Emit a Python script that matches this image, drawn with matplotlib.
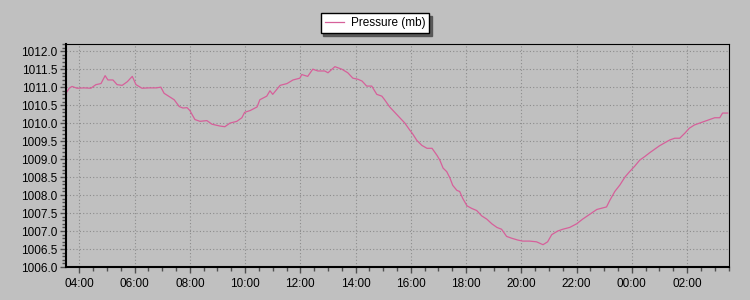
import matplotlib
matplotlib.use("Agg")
import matplotlib.pyplot as plt
import matplotlib.dates as mdates
from datetime import datetime, timedelta

# ---- data ----
times = ["03:31", "03:38", "03:44", "03:55", "04:10", "04:25", "04:36", "04:47", "04:56", "05:02",
         "05:13", "05:22", "05:33", "05:44", "05:55", "06:03", "06:16", "06:31", "06:47", "06:57",
         "07:04", "07:15", "07:26", "07:37", "07:45", "07:54", "08:00", "08:11", "08:22", "08:37",
         "08:48", "09:05", "09:16", "09:27", "09:42", "09:53", "09:59", "10:11", "10:26", "10:32",
         "10:47", "10:54", "11:00", "11:16", "11:31", "11:44", "11:59", "12:03", "12:16", "12:27",
         "12:38", "12:53", "13:00", "13:15", "13:30", "13:43", "13:54", "14:05", "14:14", "14:24",
         "14:35", "14:46", "14:57", "15:03", "15:14", "15:25", "15:36", "15:47", "15:58", "16:04",
         "16:13", "16:24", "16:35", "16:46", "16:57", "17:03", "17:10", "17:18", "17:25", "17:31",
         "17:40", "17:46", "17:53", "18:02", "18:12", "18:23", "18:34", "18:45", "18:56", "19:07",
         "19:17", "19:28", "19:39", "19:52", "20:03", "20:18", "20:33", "20:47", "20:57", "21:06",
         "21:19", "21:30", "21:45", "22:00", "22:13", "22:29", "22:44", "23:05", "23:12", "23:23",
         "23:34", "23:45", "23:55", "00:06", "00:17", "00:28", "00:38", "00:49", "01:00", "01:11",
         "01:22", "01:33", "01:44", "01:55", "02:05", "02:16", "02:27", "02:38", "02:49", "03:00",
         "03:11", "03:17", "03:28"]
pressure = [1010.83, 1010.97, 1011.02, 1010.97, 1010.98, 1010.97, 1011.07, 1011.10, 1011.32, 1011.20,
            1011.20, 1011.07, 1011.05, 1011.15, 1011.30, 1011.07, 1010.97, 1010.98, 1010.98, 1011.00,
            1010.83, 1010.74, 1010.65, 1010.46, 1010.42, 1010.43, 1010.35, 1010.10, 1010.05, 1010.07,
            1009.97, 1009.92, 1009.90, 1010.00, 1010.05, 1010.15, 1010.30, 1010.35, 1010.45, 1010.65,
            1010.75, 1010.90, 1010.80, 1011.05, 1011.10, 1011.20, 1011.25, 1011.35, 1011.30, 1011.50,
            1011.45, 1011.45, 1011.40, 1011.57, 1011.50, 1011.40, 1011.25, 1011.22, 1011.17, 1011.03,
            1011.03, 1010.80, 1010.75, 1010.65, 1010.45, 1010.30, 1010.15, 1010.00, 1009.80, 1009.70,
            1009.52, 1009.38, 1009.30, 1009.30, 1009.10, 1008.97, 1008.75, 1008.65, 1008.47, 1008.27,
            1008.13, 1008.10, 1007.90, 1007.70, 1007.63, 1007.57, 1007.42, 1007.33, 1007.20, 1007.10,
            1007.05, 1006.85, 1006.80, 1006.75, 1006.72, 1006.72, 1006.70, 1006.62, 1006.70, 1006.90,
            1007.00, 1007.05, 1007.10, 1007.20, 1007.33, 1007.47, 1007.60, 1007.67, 1007.85, 1008.10,
            1008.28, 1008.50, 1008.65, 1008.80, 1008.97, 1009.07, 1009.17, 1009.27, 1009.37, 1009.45,
            1009.53, 1009.58, 1009.58, 1009.72, 1009.86, 1009.95, 1010.00, 1010.05, 1010.10, 1010.15,
            1010.15, 1010.28, 1010.28]
series_label = "Pressure (mb)"
x_start, x_end = "03:31", "03:31"
y_min, y_max = 1006.0, 1012.2

# ---- build datetimes (day rolls over when clock goes backwards) ----
base = datetime(2012, 1, 1)
dts = []
day = 0
prev = None
for t in times:
    h, m = map(int, t.split(":"))
    if prev is not None and (h, m) < prev:
        day += 1
    prev = (h, m)
    dts.append(base + timedelta(days=day, hours=h, minutes=m))
h0, m0 = map(int, x_start.split(":"))
h1, m1 = map(int, x_end.split(":"))
xlo = base + timedelta(hours=h0, minutes=m0)
xhi = base + timedelta(days=1, hours=h1, minutes=m1)

bg = "#c0c0c0"
plt.rcParams["font.family"] = ["Liberation Sans", "DejaVu Sans"]
fig = plt.figure(figsize=(7.5, 3.0), dpi=100, facecolor=bg)
ax = fig.add_axes([66 / 750, 33 / 300, (729 - 66) / 750, (267 - 44) / 300], facecolor=bg)

ax.plot(dts, pressure, color="#d6609a", lw=0.9, label=series_label)

ax.set_xlim(xlo, xhi)
ax.set_ylim(y_min, y_max)

ax.xaxis.set_major_locator(mdates.HourLocator(byhour=range(0, 24, 2)))
ax.xaxis.set_minor_locator(mdates.MinuteLocator(byminute=[0, 30]))
ax.xaxis.set_major_formatter(mdates.DateFormatter("%H:%M"))
ax.yaxis.set_major_locator(plt.MultipleLocator(0.5))
ax.yaxis.set_minor_locator(plt.MultipleLocator(0.1))
ax.yaxis.set_major_formatter(plt.FormatStrFormatter("%.1f"))

ax.grid(True, which="major", color="#8c8c8c", linestyle=(0, (1, 2)), linewidth=0.8)
ax.tick_params(which="major", direction="out", length=4, width=1, color="#505050",
               labelsize=8.5, labelcolor="black", pad=2)
ax.tick_params(which="minor", direction="out", length=3, width=1, color="#505050")
ax.tick_params(axis="x", which="major", pad=4)

for side in ["left", "bottom"]:
    ax.spines[side].set_linewidth(1.5)
    ax.spines[side].set_color("black")
for side in ["top", "right"]:
    ax.spines[side].set_linewidth(0.8)
    ax.spines[side].set_color("black")

leg = fig.legend(loc="upper center", bbox_to_anchor=(0.5, 1 - 13 / 300), ncol=1,
                 fontsize=8.5, frameon=True, fancybox=False, framealpha=1,
                 edgecolor="black", facecolor="white", handlelength=1.6,
                 handletextpad=0.6, borderpad=0.35, borderaxespad=0,
                 shadow={"color": "#505050", "alpha": 0.9})
leg.get_frame().set_linewidth(1.0)

fig.savefig("out.png", dpi=100, facecolor=bg)
